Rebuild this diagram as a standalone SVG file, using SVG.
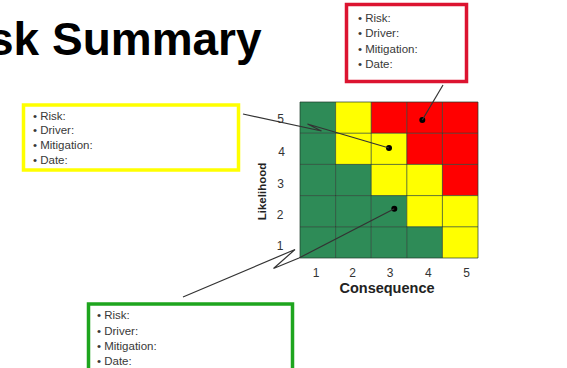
<svg xmlns="http://www.w3.org/2000/svg" width="567" height="368" viewBox="0 0 567 368">
<style>
.t{font-family:"Liberation Sans",Arial,sans-serif;font-size:11.5px;fill:#383838}
.ax{font-family:"Liberation Sans",Arial,sans-serif;font-size:12px;fill:#333;text-anchor:middle}
.lab{font-family:"Liberation Sans",Arial,sans-serif;font-weight:bold;fill:#222;text-anchor:middle}
.g{fill:#2e8b57}.y{fill:#ffff00}.r{fill:#ff0000}
.grid{stroke:#1e3a2a;stroke-width:1;stroke-opacity:0.7}
.con{fill:none;stroke:#333;stroke-width:1.2}
.box{fill:#fff;stroke-width:3.5}
</style>
<rect width="567" height="368" fill="#fff"/>
<text x="-12" y="55" font-family="Liberation Sans, Arial, sans-serif" font-weight="bold" font-size="46" fill="#000">sk Summary</text>

<g id="matrix">
<rect class="g" x="300" y="102" width="35.6" height="31.2"/>
<rect class="y" x="335.6" y="102" width="35.6" height="31.2"/>
<rect class="r" x="371.2" y="102" width="35.6" height="31.2"/>
<rect class="r" x="406.8" y="102" width="35.6" height="31.2"/>
<rect class="r" x="442.4" y="102" width="35.6" height="31.2"/>
<rect class="g" x="300" y="133.2" width="35.6" height="31.2"/>
<rect class="y" x="335.6" y="133.2" width="35.6" height="31.2"/>
<rect class="y" x="371.2" y="133.2" width="35.6" height="31.2"/>
<rect class="r" x="406.8" y="133.2" width="35.6" height="31.2"/>
<rect class="r" x="442.4" y="133.2" width="35.6" height="31.2"/>
<rect class="g" x="300" y="164.4" width="35.6" height="31.2"/>
<rect class="g" x="335.6" y="164.4" width="35.6" height="31.2"/>
<rect class="y" x="371.2" y="164.4" width="35.6" height="31.2"/>
<rect class="y" x="406.8" y="164.4" width="35.6" height="31.2"/>
<rect class="r" x="442.4" y="164.4" width="35.6" height="31.2"/>
<rect class="g" x="300" y="195.6" width="35.6" height="31.2"/>
<rect class="g" x="335.6" y="195.6" width="35.6" height="31.2"/>
<rect class="g" x="371.2" y="195.6" width="35.6" height="31.2"/>
<rect class="y" x="406.8" y="195.6" width="35.6" height="31.2"/>
<rect class="y" x="442.4" y="195.6" width="35.6" height="31.2"/>
<rect class="g" x="300" y="226.8" width="35.6" height="31.2"/>
<rect class="g" x="335.6" y="226.8" width="35.6" height="31.2"/>
<rect class="g" x="371.2" y="226.8" width="35.6" height="31.2"/>
<rect class="g" x="406.8" y="226.8" width="35.6" height="31.2"/>
<rect class="y" x="442.4" y="226.8" width="35.6" height="31.2"/>
<g class="grid">
<line x1="300" y1="102" x2="478" y2="102"/>
<line x1="300" y1="133.2" x2="478" y2="133.2"/>
<line x1="300" y1="164.4" x2="478" y2="164.4"/>
<line x1="300" y1="195.6" x2="478" y2="195.6"/>
<line x1="300" y1="226.8" x2="478" y2="226.8"/>
<line x1="300" y1="258" x2="478" y2="258"/>
<line x1="300" y1="102" x2="300" y2="258"/>
<line x1="335.6" y1="102" x2="335.6" y2="258"/>
<line x1="371.2" y1="102" x2="371.2" y2="258"/>
<line x1="406.8" y1="102" x2="406.8" y2="258"/>
<line x1="442.4" y1="102" x2="442.4" y2="258"/>
<line x1="478" y1="102" x2="478" y2="258"/>
</g>
<text class="ax" x="280.7" y="122.5">5</text>
<text class="ax" x="281.7" y="156">4</text>
<text class="ax" x="280.7" y="187.5">3</text>
<text class="ax" x="280" y="219">2</text>
<text class="ax" x="280" y="250">1</text>
<text class="ax" x="316" y="276.5">1</text>
<text class="ax" x="352.7" y="276.5">2</text>
<text class="ax" x="390" y="276.5">3</text>
<text class="ax" x="428.3" y="276.5">4</text>
<text class="ax" x="466.7" y="276.5">5</text>
<text class="lab" x="387" y="293" font-size="14.5">Consequence</text>
<text class="lab" x="0" y="0" font-size="11.5" transform="translate(265.5,191.5) rotate(-90)">Likelihood</text>
<circle cx="422.3" cy="120" r="3"/>
<circle cx="389" cy="148" r="3"/>
<circle cx="394.3" cy="208.7" r="3"/>
</g>

<g id="connectors">
<line class="con" x1="443" y1="85" x2="422.3" y2="120"/>
<polyline class="con" points="243,114 321.5,131 307.5,124 389,148"/>
<polyline class="con" points="183,297 295,249.5 273.5,268.5 299,258 394.3,208.7"/>
</g>

<g id="box-red">
<rect class="box" x="346.5" y="4.5" width="120" height="77" stroke="#dc1430"/>
<text class="t" x="358" y="21.5">• Risk:</text>
<text class="t" x="358" y="37">• Driver:</text>
<text class="t" x="358" y="52.5">• Mitigation:</text>
<text class="t" x="358" y="68">• Date:</text>
</g>

<g id="box-yellow">
<rect class="box" x="23.5" y="105" width="215" height="65" stroke="#ffff00"/>
<text class="t" x="33" y="119.5">• Risk:</text>
<text class="t" x="33" y="134">• Driver:</text>
<text class="t" x="33" y="149">• Mitigation:</text>
<text class="t" x="33" y="164">• Date:</text>
</g>

<g id="box-green">
<rect class="box" x="88.5" y="304" width="204" height="70" stroke="#1ea51e"/>
<text class="t" x="97" y="319">• Risk:</text>
<text class="t" x="97" y="334.5">• Driver:</text>
<text class="t" x="97" y="349.5">• Mitigation:</text>
<text class="t" x="97" y="365">• Date:</text>
</g>
</svg>
